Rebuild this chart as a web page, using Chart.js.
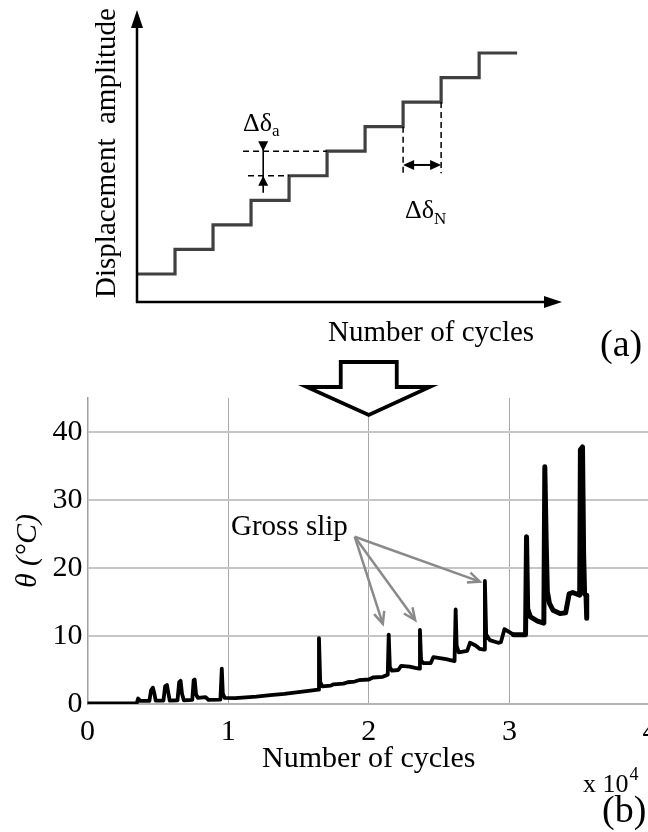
<!DOCTYPE html>
<html><head><meta charset="utf-8">
<script src="https://cdn.jsdelivr.net/npm/chart.js@4.4.1/dist/chart.umd.min.js"></script>
<style>
html,body{margin:0;padding:0;background:#fff;overflow:hidden;width:648px;height:832px;}
#wrap{position:relative;width:648px;height:832px;overflow:hidden;background:#fff;}
canvas{position:absolute;left:0;top:0;}
</style></head><body>
<div id="wrap">
<canvas id="a" width="648" height="380"></canvas>
<canvas id="b" width="680" height="832"></canvas>
</div>
<script>
// ---------- (a) schematic: displacement amplitude steps ----------
const stepCycles    = [0, 1, 2, 3, 4, 5, 6, 7, 8, 9, 10];
const stepAmplitude = [1, 2, 3, 4, 5, 6, 7, 8, 9, 10, 10];

// ---------- (b) temperature rise vs number of cycles (x 10^4) ----------
const cycles = [
  0.00, 0.35, 0.36, 0.375, 0.44, 0.452, 0.465, 0.475, 0.485, 0.54,
  0.552, 0.565, 0.575, 0.585, 0.64, 0.652, 0.662, 0.672, 0.685, 0.745,
  0.755, 0.762, 0.772, 0.785, 0.84, 0.86, 0.945, 0.955, 0.962, 0.975,
  1.05, 1.10, 1.20, 1.30, 1.40, 1.50, 1.60, 1.64, 1.646, 1.655,
  1.67, 1.73, 1.75, 1.82, 1.85, 1.90, 1.93, 2.00, 2.03, 2.10,
  2.135, 2.142, 2.15, 2.165, 2.21, 2.23, 2.29, 2.33, 2.358, 2.364,
  2.372, 2.39, 2.44, 2.46, 2.55, 2.61, 2.618, 2.625, 2.64, 2.70,
  2.72, 2.76, 2.79, 2.82, 2.826, 2.835, 2.86, 2.92, 2.94, 2.965,
  2.99, 3.03, 3.115, 3.122, 3.13, 3.15, 3.20, 3.245, 3.252, 3.262,
  3.27, 3.285, 3.31, 3.36, 3.40, 3.425, 3.45, 3.50, 3.505, 3.52,
  3.528, 3.535, 3.545, 3.55
];
const theta = [
  0.10, 0.10, 0.80, 0.45, 0.45, 2.0, 2.4, 1.6, 0.5, 0.5,
  2.6, 2.8, 1.6, 0.5, 0.55, 3.2, 3.4, 1.5, 0.55, 0.6,
  3.5, 3.6, 1.4, 0.9, 1.0, 0.6, 0.65, 5.2, 1.6, 0.9,
  0.85, 0.95, 1.1, 1.3, 1.5, 1.75, 2.0, 2.1, 9.7, 3.2,
  2.6, 2.7, 2.9, 3.0, 3.2, 3.3, 3.5, 3.6, 3.9, 4.0,
  4.3, 10.2, 5.4, 4.9, 5.0, 5.6, 5.5, 5.3, 5.2, 10.9,
  6.4, 6.0, 6.0, 6.9, 6.6, 6.3, 13.9, 8.6, 7.6, 7.8,
  9.0, 8.6, 8.1, 8.0, 18.1, 10.2, 9.4, 9.0, 9.1, 11.0,
  10.7, 10.2, 10.2, 24.6, 14.0, 12.8, 12.2, 11.9, 34.9, 23.6,
  16.5, 14.8, 13.8, 13.3, 13.4, 16.2, 16.4, 16.0, 37.4, 37.8,
  22.0, 16.2, 16.0, 12.6
];
const xTicks = [0, 1, 2, 3, 4];
const yTicks = [0, 10, 20, 30, 40];
// "Gross slip" annotation arrows (data coordinates)
const grossSlipFrom = [1.90, 24.6];
const grossSlipTo = [[2.10, 11.8], [2.33, 12.35], [2.79, 18.0]];

const SERIF = "'Liberation Serif', 'Times New Roman', serif";

function fillTri(ctx, pts) {
  ctx.beginPath(); ctx.moveTo(pts[0][0], pts[0][1]);
  for (let i = 1; i < pts.length; i++) ctx.lineTo(pts[i][0], pts[i][1]);
  ctx.closePath(); ctx.fill();
}

const schematicPlugin = {
  id: 'schematic',
  afterDraw(chart) {
    const {ctx, chartArea: ca, scales: {x, y}} = chart;
    const px = v => x.getPixelForValue(v), py = v => y.getPixelForValue(v);
    ctx.save();
    ctx.strokeStyle = '#000'; ctx.fillStyle = '#000';
    // axes with arrows
    ctx.lineWidth = 2.5; ctx.lineCap = 'butt';
    ctx.beginPath(); ctx.moveTo(ca.left, ca.bottom + 1); ctx.lineTo(ca.left, ca.top + 12); ctx.stroke();
    ctx.beginPath(); ctx.moveTo(ca.left - 1, ca.bottom); ctx.lineTo(ca.right - 12, ca.bottom); ctx.stroke();
    fillTri(ctx, [[ca.left, ca.top], [ca.left - 6, ca.top + 18], [ca.left + 6, ca.top + 18]]);
    fillTri(ctx, [[ca.right, ca.bottom], [ca.right - 18, ca.bottom - 6], [ca.right - 18, ca.bottom + 6]]);

    // dashed guides
    const lvlA = stepAmplitude[4], lvlB = stepAmplitude[5];   // two consecutive levels
    const nA = stepCycles[7], nB = stepCycles[8];              // one step duration
    ctx.lineWidth = 1.5; ctx.setLineDash([6, 4]);
    ctx.beginPath(); ctx.moveTo(px(2.79), py(lvlB)); ctx.lineTo(px(stepCycles[5]), py(lvlB)); ctx.stroke();
    ctx.beginPath(); ctx.moveTo(px(2.92), py(lvlA)); ctx.lineTo(px(stepCycles[4]), py(lvlA)); ctx.stroke();
    ctx.beginPath(); ctx.moveTo(px(nA), py(stepAmplitude[6])); ctx.lineTo(px(nA), py(5.1)); ctx.stroke();
    ctx.beginPath(); ctx.moveTo(px(nB), py(stepAmplitude[7])); ctx.lineTo(px(nB), py(5.1)); ctx.stroke();
    ctx.setLineDash([]);

    // delta a arrow (vertical)
    const ax = px(3.32);
    ctx.lineWidth = 1.6;
    ctx.beginPath(); ctx.moveTo(ax, py(lvlB) - 9); ctx.lineTo(ax, py(lvlA) + 17); ctx.stroke();
    fillTri(ctx, [[ax, py(lvlB)], [ax - 5, py(lvlB) - 10], [ax + 5, py(lvlB) - 10]]);
    fillTri(ctx, [[ax, py(lvlA)], [ax - 5, py(lvlA) + 10], [ax + 5, py(lvlA) + 10]]);

    // delta N arrow (horizontal)
    const ay = py(5.44);
    ctx.lineWidth = 2;
    ctx.beginPath(); ctx.moveTo(px(nA) + 6, ay); ctx.lineTo(px(nB) - 6, ay); ctx.stroke();
    fillTri(ctx, [[px(nA), ay], [px(nA) + 11, ay - 5], [px(nA) + 11, ay + 5]]);
    fillTri(ctx, [[px(nB), ay], [px(nB) - 11, ay - 5], [px(nB) - 11, ay + 5]]);

    // labels
    ctx.textBaseline = 'alphabetic'; ctx.textAlign = 'left';
    ctx.font = '26px ' + SERIF;
    let w = ctx.measureText('\u0394\u03b4').width;
    ctx.fillText('\u0394\u03b4', 243, 131);
    ctx.font = '17px ' + SERIF; ctx.fillText('a', 243 + w, 136);
    ctx.font = '26px ' + SERIF;
    w = ctx.measureText('\u0394\u03b4').width;
    ctx.fillText('\u0394\u03b4', 405, 218);
    ctx.font = '17px ' + SERIF; ctx.fillText('N', 405 + w, 224);

    ctx.font = '29px ' + SERIF;
    ctx.fillText('Number of cycles', 328, 341);
    ctx.font = '38px ' + SERIF;
    ctx.fillText('(a)', 600, 356);

    ctx.save();
    ctx.translate(107, 153); ctx.rotate(-Math.PI / 2);
    ctx.font = '29px ' + SERIF; ctx.textAlign = 'center'; ctx.textBaseline = 'middle';
    ctx.fillText('Displacement  amplitude', 0, 0);
    ctx.restore();
    ctx.restore();
  }
};

new Chart(document.getElementById('a'), {
  type: 'line',
  data: { datasets: [{
    data: stepCycles.map((c, i) => ({x: c, y: stepAmplitude[i]})),
    stepped: true, borderColor: '#404040', borderWidth: 3.2, pointRadius: 0, fill: false
  }]},
  options: {
    responsive: false, animation: false, events: [],
    layout: { padding: { left: 137, right: 86, top: 10, bottom: 78 } },
    plugins: { legend: { display: false }, tooltip: { enabled: false } },
    scales: {
      x: { type: 'linear', min: 0, max: 11.18, display: false },
      y: { type: 'linear', min: -0.14, max: 11.75, display: false }
    }
  },
  plugins: [schematicPlugin]
});

function drawOpenArrow(ctx, x0, y0, x1, y1) {
  ctx.beginPath(); ctx.moveTo(x0, y0); ctx.lineTo(x1, y1); ctx.stroke();
  const a = Math.atan2(y1 - y0, x1 - x0), L = 13, s = 0.42;
  ctx.beginPath();
  ctx.moveTo(x1 - L * Math.cos(a - s), y1 - L * Math.sin(a - s));
  ctx.lineTo(x1, y1);
  ctx.lineTo(x1 - L * Math.cos(a + s), y1 - L * Math.sin(a + s));
  ctx.stroke();
}

const annotPlugin = {
  id: 'annot',
  afterDraw(chart) {
    const {ctx, scales: {x, y}} = chart;
    const px = v => x.getPixelForValue(v), py = v => y.getPixelForValue(v);
    ctx.save();
    // hollow down arrow between panels, tip on x = 2
    const tx = px(2), ty = 415;
    ctx.beginPath();
    ctx.moveTo(tx - 28, 362); ctx.lineTo(tx + 28, 362); ctx.lineTo(tx + 28, 387);
    ctx.lineTo(tx + 61, 387); ctx.lineTo(tx, ty); ctx.lineTo(tx - 62, 387);
    ctx.lineTo(tx - 28, 387); ctx.closePath();
    ctx.fillStyle = '#fff'; ctx.fill();
    ctx.strokeStyle = '#000'; ctx.lineWidth = 3.8; ctx.lineJoin = 'miter'; ctx.stroke();

    // gross slip annotation
    ctx.fillStyle = '#000';
    ctx.font = '29px ' + SERIF; ctx.textAlign = 'left'; ctx.textBaseline = 'alphabetic';
    ctx.fillText('Gross slip', 231, 535);
    ctx.strokeStyle = '#8a8a8a'; ctx.lineWidth = 2.5; ctx.lineJoin = 'miter'; ctx.lineCap = 'butt';
    grossSlipTo.forEach(t => drawOpenArrow(ctx, px(grossSlipFrom[0]), py(grossSlipFrom[1]), px(t[0]), py(t[1])));

    // exponent and panel label
    ctx.fillStyle = '#000';
    ctx.font = '26px ' + SERIF;
    ctx.fillText('x 10', 583, 792);
    const w = ctx.measureText('x 10').width;
    ctx.font = '18px ' + SERIF;
    ctx.fillText('4', 583 + w + 1, 780);
    ctx.font = '38px ' + SERIF;
    ctx.fillText('(b)', 602, 822);
    ctx.restore();
  }
};

new Chart(document.getElementById('b'), {
  type: 'line',
  data: { datasets: [{
    data: cycles.map((c, i) => ({x: c, y: theta[i]})),
    borderColor: '#000', borderWidth: 3.8, pointRadius: 0, tension: 0, fill: false,
    borderJoinStyle: 'round', borderCapStyle: 'round',
    segment: { borderWidth: c => (c.p0.parsed.x >= 3.0 ? 5 : 3.8) }
  }]},
  options: {
    responsive: false, animation: false, events: [],
    layout: { padding: { left: 0, top: 398, right: 30, bottom: 55 } },
    plugins: { legend: { display: false }, tooltip: { enabled: false } },
    scales: {
      x: {
        type: 'linear', min: 0, max: 4,
        afterBuildTicks: s => { s.ticks = xTicks.map(v => ({value: v})); },
        afterFit: s => { s.height = 73; },
        ticks: { font: { family: SERIF, size: 30 }, color: '#000', padding: 10, maxRotation: 0, autoSkip: false, callback: v => String(v) },
        grid: { color: '#a8a8a8', lineWidth: 1, drawTicks: false },
        border: { color: '#b4b4b4', width: 2 },
        title: { display: true, text: 'Number of cycles', color: '#000', font: { family: SERIF, size: 30 }, padding: { top: 0, bottom: 0 } }
      },
      y: {
        type: 'linear', min: 0, max: 45,
        afterBuildTicks: s => { s.ticks = yTicks.map(v => ({value: v})); },
        afterFit: s => { s.width = 87.5; },
        ticks: { font: { family: SERIF, size: 30 }, color: '#000', padding: 5, callback: v => String(v) },
        grid: { color: '#c6c6c6', lineWidth: 2, drawTicks: false },
        border: { color: '#a0a0a0', width: 1.5 },
        title: { display: true, text: '\u03b8 (\u00b0C)', color: '#000', font: { family: SERIF, size: 30, style: 'italic' }, padding: { top: 10, bottom: 0 } }
      }
    }
  },
  plugins: [annotPlugin]
});
</script>
</body></html>
